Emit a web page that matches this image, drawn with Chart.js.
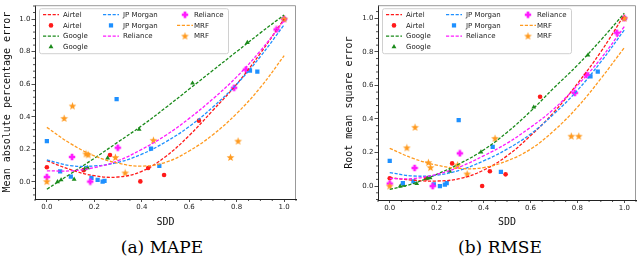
<!DOCTYPE html>
<html><head><meta charset="utf-8">
<script src="https://cdn.jsdelivr.net/npm/chart.js@4.4.1/dist/chart.umd.min.js"></script>
<style>
html,body{margin:0;padding:0;background:#fff;width:640px;height:257px;overflow:hidden}
.panel{position:absolute;top:0;width:320px;height:232px}
.cap{position:absolute;top:237px;line-height:20px;font-family:'DejaVu Serif',serif;font-size:17px;color:#000;white-space:nowrap;transform:translateX(-50%)}
</style></head><body>
<div class="panel" style="left:0"><canvas id="c1" width="320" height="232"></canvas></div>
<div class="panel" style="left:320px"><canvas id="c2" width="320" height="232"></canvas></div>
<div class="cap" style="left:162px">(a) MAPE</div>
<div class="cap" style="left:500px">(b) RMSE</div>
<script>
// ---------- data ----------
const companies = ['Airtel', 'Google', 'JP Morgan', 'Reliance', 'MRF'];

const sddAirtel = [0, 0.155, 0.266, 0.394, 0.427, 0.494, 0.641, 1.0];
const mapeAirtel = [0.09, 0.072, 0.165, 0.003, 0.085, 0.042, 0.376, 1.0];
const rmseAirtel = [0.047, 0.045, 0.135, 0.0, 0.088, 0.07, 0.532, 1.0];

const sddGoogle = [0.045, 0.06, 0.115, 0.16, 0.172, 0.256, 0.389, 0.614, 0.845, 1.0];
const mapeGoogle = [0.0, 0.012, 0.016, 0.08, 0.086, 0.146, 0.322, 0.606, 0.856, 1.0];
const rmseGoogle = [0.0, 0.005, 0.014, 0.046, 0.049, 0.088, 0.203, 0.47, 0.78, 1.0];

const sddJPM = [0, 0.056, 0.101, 0.188, 0.214, 0.235, 0.243, 0.294, 0.439, 0.474, 0.856, 0.887, 1.0];
const mapeJPM = [0.25, 0.065, 0.032, 0.025, 0.012, 0.002, 0.007, 0.508, 0.204, 0.099, 0.684, 0.677, 1.0];
const rmseJPM = [0.15, 0.018, 0.028, 0.01, 0.0, 0.008, 0.018, 0.393, 0.233, 0.085, 0.654, 0.682, 1.0];

const sddRel = [0, 0.106, 0.183, 0.299, 0.789, 0.839, 0.968, 1.0];
const mapeRel = [0.03, 0.153, 0.002, 0.21, 0.578, 0.69, 0.936, 1.0];
const rmseRel = [0.015, 0.108, 0.0, 0.195, 0.555, 0.662, 0.914, 1.0];

const sddMRF = [0, 0.073, 0.108, 0.165, 0.174, 0.289, 0.33, 0.449, 0.774, 0.806, 1.0];
const mapeMRF = [0.002, 0.39, 0.466, 0.172, 0.166, 0.15, 0.055, 0.255, 0.15, 0.25, 1.0];
const rmseMRF = [0.0, 0.228, 0.35, 0.14, 0.11, 0.125, 0.072, 0.284, 0.297, 0.297, 1.0];

// fitted trend curves read at these SDD values
const fitX = [0, 0.1, 0.2, 0.3, 0.4, 0.5, 0.6, 0.7, 0.8, 0.9, 1.0];
const mapeFitAirtel = [0.13, 0.075, 0.038, 0.03, 0.065, 0.155, 0.285, 0.44, 0.6, 0.79, 1.0];
const mapeFitGoogle = [-0.045, 0.05, 0.145, 0.245, 0.345, 0.455, 0.57, 0.685, 0.8, 0.915, 1.025];
const mapeFitJPM = [0.135, 0.1, 0.098, 0.12, 0.17, 0.245, 0.34, 0.46, 0.6, 0.77, 0.965];
const mapeFitRel = [0.068, 0.068, 0.088, 0.13, 0.2, 0.285, 0.39, 0.51, 0.645, 0.805, 0.99];
const mapeFitMRF = [0.335, 0.235, 0.16, 0.115, 0.097, 0.12, 0.19, 0.29, 0.42, 0.58, 0.775];

const rmseFitAirtel = [0.05, 0.035, 0.03, 0.045, 0.095, 0.18, 0.3, 0.44, 0.61, 0.8, 1.02];
const rmseFitGoogle = [-0.02, 0.015, 0.07, 0.135, 0.215, 0.32, 0.445, 0.585, 0.72, 0.87, 1.03];
const rmseFitJPM = [0.08, 0.06, 0.065, 0.095, 0.15, 0.22, 0.31, 0.43, 0.57, 0.74, 0.93];
const rmseFitRel = [0.045, 0.045, 0.07, 0.115, 0.18, 0.255, 0.35, 0.46, 0.6, 0.76, 0.95];
const rmseFitMRF = [0.225, 0.165, 0.125, 0.105, 0.11, 0.15, 0.22, 0.33, 0.47, 0.64, 0.825];

const xTickValues = [0.0, 0.2, 0.4, 0.6, 0.8, 1.0];
const yTickValues = [0.0, 0.2, 0.4, 0.6, 0.8, 1.0];

// ---------- styles ----------
const colors = ['#ff1a1a', '#1a8a1a', '#1e90ff', '#ff1aff', '#ff9a1f'];

function plusImage(color) {
  const c = document.createElement('canvas'); c.width = 8; c.height = 8;
  const g = c.getContext('2d'); g.fillStyle = color;
  const m = 4, w = 1.35, e = 3.2;
  g.beginPath();
  g.moveTo(m - w, m - e); g.lineTo(m + w, m - e); g.lineTo(m + w, m - w); g.lineTo(m + e, m - w);
  g.lineTo(m + e, m + w); g.lineTo(m + w, m + w); g.lineTo(m + w, m + e); g.lineTo(m - w, m + e);
  g.lineTo(m - w, m + w); g.lineTo(m - e, m + w); g.lineTo(m - e, m - w); g.lineTo(m - w, m - w);
  g.closePath(); g.fill();
  return c;
}
function starImage(color) {
  const c = document.createElement('canvas'); c.width = 9; c.height = 9;
  const g = c.getContext('2d'); g.fillStyle = color;
  const cx = 4.5, cy = 4.7, ro = 4.1, ri = 1.7;
  g.beginPath();
  for (let k = 0; k < 10; k++) {
    const r = k % 2 === 0 ? ro : ri;
    const a = -Math.PI / 2 + k * Math.PI / 5;
    const px = cx + r * Math.cos(a), py = cy + r * Math.sin(a);
    if (k === 0) g.moveTo(px, py); else g.lineTo(px, py);
  }
  g.closePath(); g.fill();
  return c;
}
const pointStyles = ['circle', 'triangle', 'rect', plusImage(colors[3]), starImage(colors[4])];
const pointRadii = [2.3, 2.8, 3.0, 3, 3];

function buildDatasets(sddList, valList, fitList) {
  const ds = [];
  companies.forEach((name, k) => {
    ds.push({
      label: name, isFit: true, showLine: true,
      data: fitX.map((x, i) => ({x: x, y: fitList[k][i]})),
      borderColor: colors[k], borderWidth: 1.3, borderDash: [3.2, 1.6],
      pointRadius: 0, tension: 0.4, fill: false, order: 20 - k
    });
    ds.push({
      label: name, isFit: false, showLine: false,
      data: sddList[k].map((x, i) => ({x: x, y: valList[k][i]})),
      pointStyle: pointStyles[k], pointRadius: pointRadii[k],
      backgroundColor: colors[k], borderColor: colors[k], pointBorderWidth: 0,
      order: 40 - k
    });
  });
  return ds;
}

// ---------- plugins ----------
const decor = {
  id: 'decor',
  afterDraw(chart) {
    const {ctx, chartArea: a} = chart;
    const xs = chart.scales.x, ys = chart.scales.y;
    ctx.save();
    // top/right frame
    ctx.strokeStyle = '#999'; ctx.lineWidth = 1;
    ctx.beginPath();
    ctx.moveTo(a.left, a.top + 0.5); ctx.lineTo(a.right - 0.5, a.top + 0.5); ctx.lineTo(a.right - 0.5, a.bottom);
    ctx.stroke();
    // minor ticks
    ctx.strokeStyle = '#222'; ctx.lineWidth = 0.8;
    ctx.beginPath();
    for (let k = -2; k <= 22; k++) {
      const v = k * 0.05;
      if (v < xs.min || v > xs.max || k % 4 === 0) continue;
      const px = xs.getPixelForValue(v);
      ctx.moveTo(px, a.bottom); ctx.lineTo(px, a.bottom + 2);
    }
    for (let k = -3; k <= 28; k++) {
      const v = k * 0.04;
      if (v < ys.min || v > ys.max || k % 5 === 0) continue;
      const py = ys.getPixelForValue(v);
      ctx.moveTo(a.left, py); ctx.lineTo(a.left - 2, py);
    }
    ctx.stroke();
    // legend
    const bx = a.left + 4, by = a.top + 3, bw = 189, bh = 45;
    ctx.fillStyle = 'rgba(255,255,255,0.85)'; ctx.strokeStyle = '#d0d0d0'; ctx.lineWidth = 1;
    ctx.beginPath();
    if (ctx.roundRect) ctx.roundRect(bx + 0.5, by + 0.5, bw, bh, 2); else ctx.rect(bx + 0.5, by + 0.5, bw, bh);
    ctx.fill(); ctx.stroke();
    const colCounts = [4, 3, 3];
    const colHandle = [4, 64, 138];
    const colText = [24, 84, 155];
    const rowY = [6.5, 17.2, 27.9, 38.6];
    ctx.font = '7px "DejaVu Sans"'; ctx.textBaseline = 'middle'; ctx.textAlign = 'left';
    let idx = 0;
    chart.data.datasets.forEach((d, i) => {
      let c = 0, r = i;
      while (r >= colCounts[c]) { r -= colCounts[c]; c++; }
      const hx = bx + colHandle[c], hy = by + rowY[r];
      if (d.isFit) {
        ctx.save();
        ctx.strokeStyle = d.borderColor; ctx.lineWidth = 1.3; ctx.setLineDash([3.2, 1.6]);
        ctx.beginPath(); ctx.moveTo(hx, hy); ctx.lineTo(hx + 16, hy); ctx.stroke();
        ctx.restore();
      } else {
        ctx.save();
        ctx.fillStyle = d.backgroundColor; ctx.strokeStyle = d.borderColor;
        Chart.helpers.drawPoint(ctx, {pointStyle: d.pointStyle, radius: d.pointRadius, rotation: 0, borderWidth: 0}, hx + 8, hy);
        ctx.restore();
      }
      ctx.fillStyle = '#222';
      ctx.fillText(d.label, bx + colText[c], hy + 0.5);
    });
    ctx.restore();
  }
};

function makeChart(id, datasets, yTitle, yMin, yMax, layoutPad, yWidth, xHeight, yTitlePadTop) {
  return new Chart(document.getElementById(id), {
    type: 'scatter',
    data: {datasets: datasets},
    options: {
      responsive: false, animation: false, devicePixelRatio: 1,
      layout: {padding: layoutPad},
      plugins: {legend: {display: false}, tooltip: {enabled: false}},
      scales: {
        x: {
          type: 'linear', min: -0.05, max: 1.05,
          afterBuildTicks: s => { s.ticks = xTickValues.map(v => ({value: v})); },
          afterFit: s => { s.height = xHeight; },
          ticks: {font: {family: 'DejaVu Sans', size: 7}, color: '#222', padding: 1, maxRotation: 0,
                  callback: v => Number(v).toFixed(1)},
          grid: {display: true, drawOnChartArea: false, drawTicks: true, tickLength: 3, tickColor: '#222', tickWidth: 0.8},
          border: {display: true, color: '#222', width: 1},
          title: {display: true, text: 'SDD', font: {family: 'DejaVu Sans Mono', size: 10}, color: '#111', padding: {top: 0, bottom: 4}}
        },
        y: {
          type: 'linear', min: yMin, max: yMax,
          afterBuildTicks: s => { s.ticks = yTickValues.map(v => ({value: v})); },
          afterFit: s => { s.width = yWidth; },
          ticks: {font: {family: 'DejaVu Sans', size: 7}, color: '#222', padding: 1,
                  callback: v => Number(v).toFixed(1)},
          grid: {display: true, drawOnChartArea: false, drawTicks: true, tickLength: 3.5, tickColor: '#222', tickWidth: 0.8},
          border: {display: true, color: '#222', width: 1},
          title: {display: true, text: yTitle, font: {family: 'DejaVu Sans Mono', size: 10}, color: '#111', padding: {top: yTitlePadTop, bottom: 0}}
        }
      }
    },
    plugins: [decor]
  });
}

makeChart('c1',
  buildDatasets([sddAirtel, sddGoogle, sddJPM, sddRel, sddMRF],
                [mapeAirtel, mapeGoogle, mapeJPM, mapeRel, mapeMRF],
                [mapeFitAirtel, mapeFitGoogle, mapeFitJPM, mapeFitRel, mapeFitMRF]),
  'Mean absolute percentage error', -0.105, 1.085, {left: 0, top: 1, right: 24, bottom: 0}, 35, 33, 1);

makeChart('c2',
  buildDatasets([sddAirtel, sddGoogle, sddJPM, sddRel, sddMRF],
                [rmseAirtel, rmseGoogle, rmseJPM, rmseRel, rmseMRF],
                [rmseFitAirtel, rmseFitGoogle, rmseFitJPM, rmseFitRel, rmseFitMRF]),
  'Root mean square error', -0.083, 1.078, {left: 22, top: 2, right: 3, bottom: 0}, 36, 32, 1);
</script>
</body></html>
